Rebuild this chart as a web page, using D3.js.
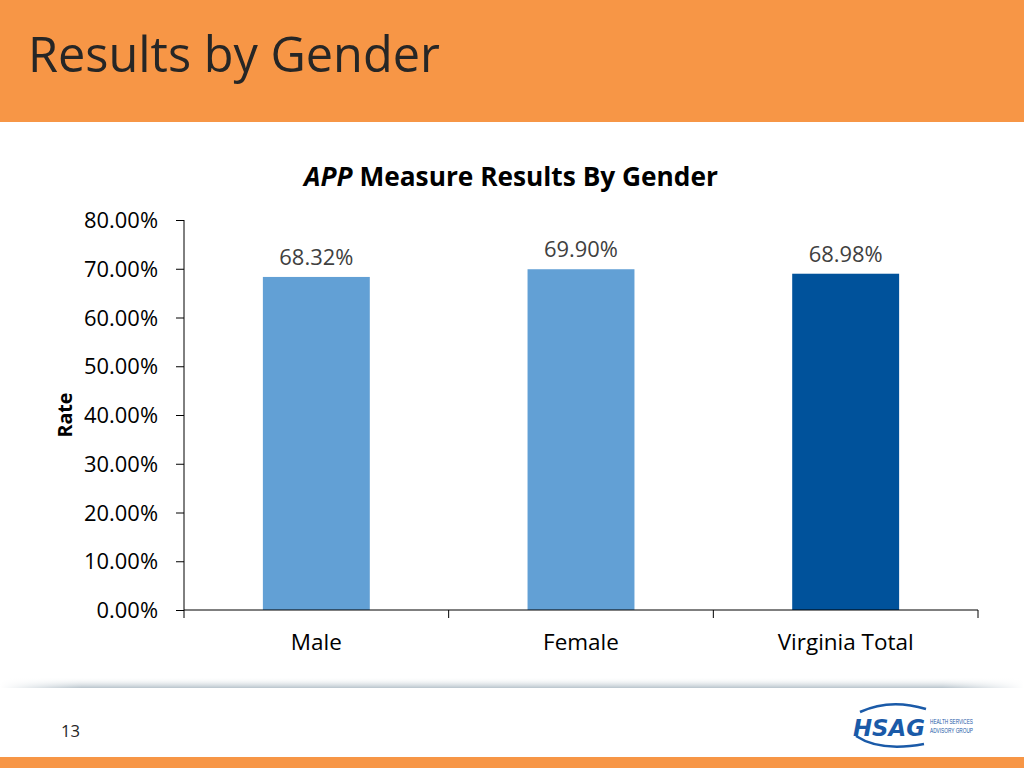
<!DOCTYPE html>
<html><head><meta charset="utf-8">
<script src="https://cdn.jsdelivr.net/npm/d3@7"></script>
<style>html,body{margin:0;padding:0;background:#fff;}svg{display:block;}</style>
</head><body>
<script>
const categories = ["Male", "Female", "Virginia Total"];
const rates = [68.32, 69.90, 68.98];
const barColors = ["#62A0D5", "#62A0D5", "#00529B"];
const yTicks = [0, 10, 20, 30, 40, 50, 60, 70, 80];

const W = 1024, H = 768;
const font = "'Open Sans', Lato, sans-serif";
const svg = d3.select("body").append("svg").attr("width", W).attr("height", H);

// scale font-size of a text so its rendered width matches a target width
function fit(sel, target) {
  sel.each(function() {
    const el = d3.select(this);
    const fs = parseFloat(el.attr("font-size"));
    const w = this.getComputedTextLength();
    if (w > 0) el.attr("font-size", fs * target / w);
  });
}

// header
svg.append("rect").attr("x",0).attr("y",0).attr("width",W).attr("height",122).attr("fill","#F79646");
svg.append("text").attr("x",28).attr("y",72).attr("font-family",font).attr("font-size",50)
  .attr("fill","#262626").text("Results by Gender").call(fit, 412);

// footer shadow
const defs = svg.append("defs");
const g1 = defs.append("linearGradient").attr("id","sh").attr("x1",0).attr("y1",0).attr("x2",0).attr("y2",1);
g1.append("stop").attr("offset","0%").attr("stop-color","#fff").attr("stop-opacity",0);
g1.append("stop").attr("offset","100%").attr("stop-color","#b8c4cc");
const g2 = defs.append("linearGradient").attr("id","shx").attr("x1",0).attr("y1",0).attr("x2",1).attr("y2",0);
g2.append("stop").attr("offset","0%").attr("stop-color","#fff").attr("stop-opacity",1);
g2.append("stop").attr("offset","8%").attr("stop-color","#fff").attr("stop-opacity",0);
g2.append("stop").attr("offset","92%").attr("stop-color","#fff").attr("stop-opacity",0);
g2.append("stop").attr("offset","100%").attr("stop-color","#fff").attr("stop-opacity",1);
svg.append("rect").attr("x",0).attr("y",677).attr("width",W).attr("height",11).attr("fill","url(#sh)");
svg.append("rect").attr("x",0).attr("y",677).attr("width",W).attr("height",11).attr("fill","url(#shx)");
svg.append("rect").attr("x",0).attr("y",757).attr("width",W).attr("height",11).attr("fill","#F79646");
svg.append("text").attr("x",61).attr("y",737).attr("font-family",font).attr("font-size",16)
  .attr("fill","#262626").text("13").call(fit, 19);

// logo
const logo = svg.append("g").attr("transform","translate(850,700)");
logo.append("path").attr("d","M10,12 Q40,-2 76,9").attr("fill","none").attr("stroke","#1a5aa8").attr("stroke-width",2.5);
logo.append("path").attr("d","M6,36 Q30,52 74,44").attr("fill","none").attr("stroke","#1a5aa8").attr("stroke-width",2.5);
logo.append("text").attr("x",3).attr("y",36).attr("font-family","'DejaVu Sans', sans-serif").attr("font-weight","bold")
  .attr("font-style","italic").attr("font-size",22).attr("fill","#1a5aa8").text("HSAG").call(fit, 72);
logo.append("text").attr("x",80).attr("y",24).attr("font-family","'Liberation Sans Narrow', 'Liberation Sans', sans-serif").attr("font-size",7.5).attr("fill","#1a5aa8").attr("textLength",43).attr("lengthAdjust","spacingAndGlyphs").text("HEALTH SERVICES");
logo.append("text").attr("x",80).attr("y",33).attr("font-family","'Liberation Sans Narrow', 'Liberation Sans', sans-serif").attr("font-size",7.5).attr("fill","#1a5aa8").attr("textLength",43).attr("lengthAdjust","spacingAndGlyphs").text("ADVISORY GROUP");

// chart
const x0 = 184, x1 = 978, yTop = 220, yBot = 610;
const x = d3.scaleBand().domain(categories).range([x0, x1]).paddingInner(0.596).paddingOuter(0.298);
const xTickScale = d3.scaleBand().domain(categories).range([x0, x1]);
const y = d3.scaleLinear().domain([0, 80]).range([yBot, yTop]);

// title
const t = svg.append("text").attr("x",511).attr("y",186).attr("text-anchor","middle")
  .attr("font-family",font).attr("font-size",22).attr("font-weight","bold").attr("fill","#000");
t.append("tspan").attr("font-style","italic").text("APP");
t.append("tspan").text(" Measure Results By Gender");
fit(t, 414);

// y axis
const yAxis = svg.append("g").attr("transform",`translate(${x0},0)`)
  .call(d3.axisLeft(y).tickValues(yTicks).tickSize(8).tickPadding(18).tickFormat(d => d.toFixed(2) + "%"));
yAxis.select(".domain").attr("stroke","#000").attr("d",`M-0,${yTop}V${yBot}`);
yAxis.selectAll(".tick line").attr("stroke","#000");
const ytl = yAxis.selectAll(".tick text").attr("font-family",font).attr("font-size",19).attr("fill","#000").attr("dy","0.35em");
const refW = yAxis.select(".tick:last-of-type text").node().getComputedTextLength();
ytl.attr("font-size", 19 * 74 / refW);

// bars
svg.selectAll("rect.bar").data(categories).enter().append("rect").attr("class","bar")
  .attr("x", d => x(d)).attr("width", x.bandwidth())
  .attr("y", (d,i) => y(rates[i])).attr("height", (d,i) => yBot - y(rates[i]))
  .attr("fill", (d,i) => barColors[i]);

// value labels
svg.selectAll("text.val").data(categories).enter().append("text").attr("class","val")
  .attr("x", d => x(d) + x.bandwidth()/2).attr("y", (d,i) => y(rates[i]) - 12)
  .attr("text-anchor","middle").attr("font-family",font).attr("font-size",19 * 74 / refW).attr("fill","#404040")
  .text((d,i) => rates[i].toFixed(2) + "%");

// x axis
const xAxis = svg.append("g").attr("transform",`translate(0,${yBot})`)
  .call(d3.axisBottom(xTickScale).tickSize(0).tickPadding(24));
xAxis.select(".domain").attr("stroke","#000").attr("d",`M${x0},0H${x1}`);
const xtl = xAxis.selectAll(".tick text").attr("font-family",font).attr("font-size",19).attr("fill","#000").attr("dy","0.71em");
const vt = xAxis.selectAll(".tick text").filter(d => d === "Virginia Total").node().getComputedTextLength();
xtl.attr("font-size", 19 * 136 / vt);
const bounds = [x0].concat(categories.map(c => xTickScale(c) + xTickScale.bandwidth()));
xAxis.selectAll("line.sep").data(bounds).enter().append("line").attr("class","sep")
  .attr("x1", d => d).attr("x2", d => d).attr("y1",0).attr("y2",8).attr("stroke","#000");

// y label
svg.append("text").attr("transform","translate(72,415) rotate(-90)").attr("text-anchor","middle")
  .attr("font-family",font).attr("font-size",19).attr("font-weight","bold").attr("fill","#000").text("Rate").call(fit, 45);
</script>
</body></html>
